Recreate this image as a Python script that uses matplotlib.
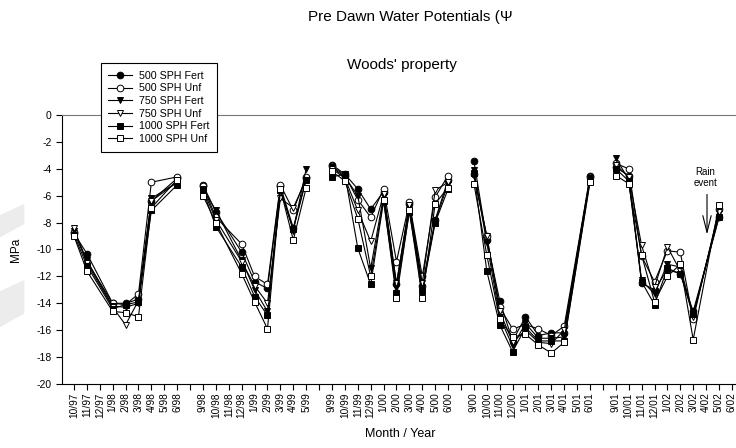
import numpy as np
import matplotlib.pyplot as plt
from matplotlib.patches import Polygon

plt.rcParams['font.family'] = ['Liberation Sans', 'DejaVu Sans']
plt.rcParams['axes.unicode_minus'] = False

nan = np.nan

# month categories, '' = empty slot (break in the record)
months = ['10/97', '11/97', '12/97', '1/98', '2/98', '3/98', '4/98', '5/98', '6/98', '',
          '9/98', '10/98', '11/98', '12/98', '1/99', '2/99', '3/99', '4/99', '5/99', '',
          '9/99', '10/99', '11/99', '12/99', '1/00', '2/00', '3/00', '4/00', '5/00', '6/00', '',
          '9/00', '10/00', '11/00', '12/00', '1/01', '2/01', '3/01', '4/01', '5/01', '6/01', '',
          '9/01', '10/01', '11/01', '12/01', '1/02', '2/02', '3/02', '4/02', '5/02', '6/02']

sph500_fert = [-8.8, -10.3, nan, -14.0, -14.0, -13.7, -6.4, nan, -4.7, nan,
               -5.2, -7.2, nan, -10.2, -12.4, -12.9, -5.3, -8.4, -4.7, nan,
               -3.7, -4.4, -5.5, -7.0, -5.7, -12.6, -6.6, -12.7, -7.8, -4.8, nan,
               -3.4, -9.3, -13.8, -16.8, -15.0, -16.4, -16.2, -16.2, nan, -4.5, nan,
               -3.9, -4.5, -12.5, -13.0, -11.5, -11.8, -14.6, nan, -7.6, nan]
sph500_unf = [-8.7, -10.9, nan, -14.0, -14.1, -13.3, -5.0, nan, -4.6, nan,
              -5.3, -7.6, nan, -9.6, -12.0, -12.6, -5.2, -7.1, -4.6, nan,
              -3.8, -4.5, -6.3, -7.6, -5.5, -10.9, -6.5, -12.0, -6.1, -4.5, nan,
              -4.4, -9.0, -14.3, -15.9, -15.6, -15.9, -16.4, -15.7, nan, -4.6, nan,
              -3.6, -4.0, -10.5, -12.4, -10.1, -10.2, -15.2, nan, -7.0, nan]
sph750_fert = [-8.6, -10.8, nan, -14.2, -14.3, -14.0, -6.2, nan, -5.0, nan,
               -5.5, -7.1, nan, -10.8, -13.0, -14.6, -5.5, -8.6, -4.0, nan,
               -3.9, -4.6, -6.0, -11.4, -6.0, -12.8, -6.8, -12.9, -7.9, -5.1, nan,
               -4.1, -9.5, -15.0, -17.2, -15.5, -16.6, -16.6, -16.5, nan, -4.7, nan,
               -3.2, -4.8, -12.3, -13.3, -11.1, -11.3, -14.9, nan, -7.3, nan]
sph750_unf = [-8.4, -11.0, nan, -14.3, -15.6, -13.8, -6.4, nan, -5.0, nan,
              -5.5, -7.8, nan, -10.9, -12.7, -14.0, -6.2, -6.9, -4.8, nan,
              -4.0, -4.7, -7.1, -9.4, -5.9, -12.5, -6.7, -12.5, -5.6, -5.0, nan,
              -4.5, -9.0, -14.6, -16.9, -16.0, -16.9, -17.0, -16.0, nan, -4.8, nan,
              -3.7, -4.6, -9.7, -12.8, -9.8, -11.6, -15.0, nan, -7.2, nan]
sph1000_fert = [-8.9, -11.2, nan, -14.4, -14.1, -13.9, -7.1, nan, -5.2, nan,
                -5.6, -8.3, nan, -11.3, -13.5, -14.9, -5.6, -8.5, -4.85, nan,
                -4.6, -4.4, -9.9, -12.6, -6.4, -13.2, -7.2, -13.1, -8.0, -5.5, nan,
                -4.3, -11.6, -15.6, -17.6, -15.8, -16.8, -16.8, -16.8, nan, -4.9, nan,
                -4.0, -4.9, -12.4, -14.1, -11.4, -11.8, -14.8, nan, -7.6, nan]
sph1000_unf = [-9.0, -11.6, nan, -14.6, -14.7, -15.0, -6.9, nan, -4.8, nan,
               -6.0, -8.0, nan, -11.8, -13.9, -15.9, -5.5, -9.3, -5.4, nan,
               -4.2, -4.9, -7.7, -12.0, -6.3, -13.6, -7.1, -13.6, -6.6, -5.4, nan,
               -5.1, -10.4, -15.2, -16.5, -16.3, -17.1, -17.7, -16.9, nan, -5.0, nan,
               -4.5, -5.1, -10.4, -13.9, -12.0, -11.1, -16.7, nan, -6.7, nan]

series = [('500 SPH Fert', sph500_fert, 'o', 'black'),
          ('500 SPH Unf', sph500_unf, 'o', 'white'),
          ('750 SPH Fert', sph750_fert, 'v', 'black'),
          ('750 SPH Unf', sph750_unf, 'v', 'white'),
          ('1000 SPH Fert', sph1000_fert, 's', 'black'),
          ('1000 SPH Unf', sph1000_unf, 's', 'white')]

x = np.arange(len(months))
breaks = [i for i, m in enumerate(months) if m == ''] + [len(months)]

fig = plt.figure(figsize=(7.36, 4.48), dpi=100)

# faint grey smudges at the left edge of the scan
for pts in [[(0, 0.52), (0.033, 0.545), (0.033, 0.50), (0, 0.47)],
            [(0, 0.35), (0.033, 0.375), (0.033, 0.30), (0, 0.27)]]:
    fig.patches.append(Polygon(pts, closed=True, transform=fig.transFigure,
                               facecolor='#ececec', edgecolor='none', zorder=0))

ax = fig.add_axes([0.0842, 0.1429, 0.919, 0.6004])
ax.patch.set_alpha(0)

for name, vals, mk, fc in series:
    vals = np.array(vals, dtype=float)
    start = 0
    for k, b in enumerate(breaks):
        seg_x = x[start:b]
        seg_y = vals[start:b]
        ok = ~np.isnan(seg_y)
        ax.plot(seg_x[ok], seg_y[ok], color='black', lw=0.8, marker=mk,
                markersize=4.8, markerfacecolor=fc, markeredgecolor='black',
                markeredgewidth=0.7, label=name if k == 0 else None)
        start = b + 1

ax.set_xlim(-0.93, 51.5)
ax.set_ylim(-20, 0)
ax.set_yticks(np.arange(-20, 1, 2))
ax.set_xticks(x)
ax.set_xticklabels(months, rotation=90, fontsize=7.3)
ax.tick_params(axis='y', labelsize=7.5, direction='out', length=4, width=0.8)
ax.tick_params(axis='x', direction='out', length=4, width=0.8, pad=2)
ax.spines['right'].set_visible(False)
ax.spines['top'].set_color('#777777')
ax.spines['left'].set_linewidth(0.8)
ax.spines['bottom'].set_linewidth(0.8)

ax.set_xlabel('Month / Year', fontsize=9, labelpad=7)
ax.set_ylabel('MPa', fontsize=8.5, labelpad=10)

leg = ax.legend(loc='upper left', bbox_to_anchor=(0.057, 1.193), fontsize=7.7,
                frameon=True, fancybox=False, framealpha=1, edgecolor='black',
                handlelength=2.25, labelspacing=0.25, borderpad=0.72,
                handletextpad=0.6, borderaxespad=0)
leg.get_frame().set_linewidth(0.8)

ax.annotate('', xy=(49.07, -9.1), xytext=(49.07, -5.7),
            arrowprops=dict(arrowstyle='->,head_length=1.2,head_width=0.3',
                            color='black', lw=0.8))
ax.text(48.95, -5.4, 'Rain\nevent', ha='center', va='bottom', fontsize=7,
        linespacing=1.1)

fig.text(0.558, 0.963, 'Pre Dawn Water Potentials (\u03a8', ha='center',
         va='center', fontsize=11)
fig.text(0.546, 0.855, "Woods' property", ha='center', va='center', fontsize=11)

fig.savefig('out.png', dpi=100)
